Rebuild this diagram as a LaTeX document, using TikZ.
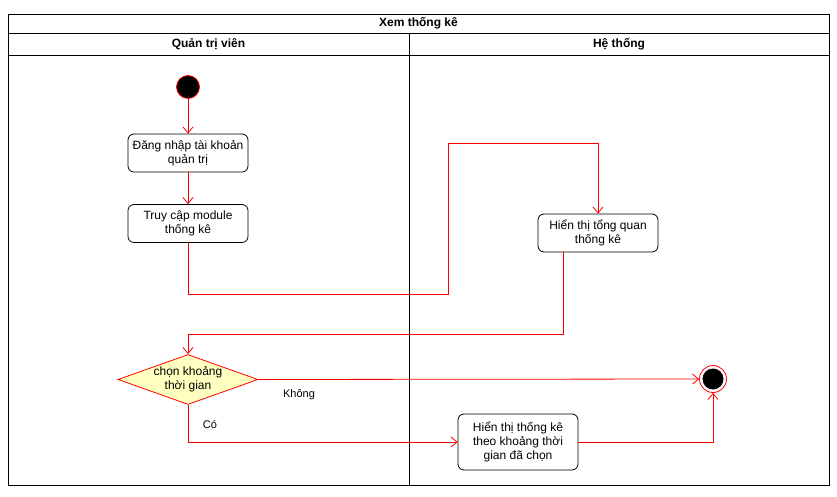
\documentclass[tikz,border=0pt]{standalone}
\usepackage{fontspec}
\setmainfont{Liberation Sans}
\usetikzlibrary{positioning,shapes.geometric,arrows.meta}
\definecolor{flowred}{rgb}{1.0,0.0,0.0}
\definecolor{choiceyellow}{HTML}{FFFFC0}

\begin{document}
\begin{tikzpicture}[
	x=1pt,
	y=-1pt,
	line width=0.8pt,
	font=\fontsize{12}{14}\selectfont
]
\tikzset{
    action/.style = {rectangle, rounded corners=6pt, draw=black, align=center,
        minimum width=120pt, minimum height=38pt, inner sep=2pt},
    choice/.style = {diamond, draw=flowred, fill=choiceyellow,
        minimum width=140pt, minimum height=50pt, inner sep=0pt},
    startdot/.style = {circle, draw=flowred, fill=black, minimum size=23pt, inner sep=0pt},
    enddot/.style = {circle, draw=flowred, fill=white, minimum size=27pt, inner sep=0pt,
        path picture={\fill[black] (path picture bounding box.center) circle (10.5pt);}},
    flow/.style = {draw=flowred, -{Straight Barb[length=6pt,width=10pt]}},
    lanehead/.style = {font=\fontsize{12}{14}\selectfont\bfseries},
    guard/.style = {font=\fontsize{11}{13}\selectfont},
}

    \useasboundingbox[fill=white] (0,0) rectangle (837,497);

    % swimlanes
    \draw (8,14) rectangle (829,485);
    \draw (8,33) -- (829,33);
    \draw (8,55) -- (829,55);
    \draw (409,33) -- (409,485);
    \node (title) [lanehead] at (418.5,23.5) {Xem thống kê};
    \node (admin) [lanehead] at (208.5,44) {Quản trị viên};
    \node (system) [lanehead] at (619,44) {Hệ thống};

    % activities
    \node (start) [startdot] at (188,87) {};
    \node (login) [action] at (188,153) {Đăng nhập tài khoản\\quản trị};
    \node (module) [action] at (188,223.5) {Truy cập module\\thống kê};
    \node (overview) [action] at (598,233) {Hiển thị tổng quan\\thống kê};
    \node (range) [choice, label={[align=center]center:{chọn khoảng\\thời gian}}]
        at (188,379.5) {};
    \node (result) [action, minimum height=56pt] at (518,442)
        {Hiển thị thống kê\\theo khoảng thời\\gian đã chọn};
    \node (finish) [enddot] at (713,379) {};

    % flows
    \draw[flow] (start) -- (login);
    \draw[flow] (login) -- (module);
    \draw[flow] (module.south) |- (448,294) -- (448,143) -| (overview.north);
    \draw[flow] ([xshift=-35pt]overview.south) |- (188,334) -- (range.north);
    \draw[flow] (range.east) -- (finish.west);
    \draw[flow] (range.south) |- (result.west);
    \draw[flow] (result.east) -| (finish.south);
    \node (no) [guard] at (299,395) {Không};
    \node (yes) [guard] at (210,424) {Có};
\end{tikzpicture}
\end{document}
